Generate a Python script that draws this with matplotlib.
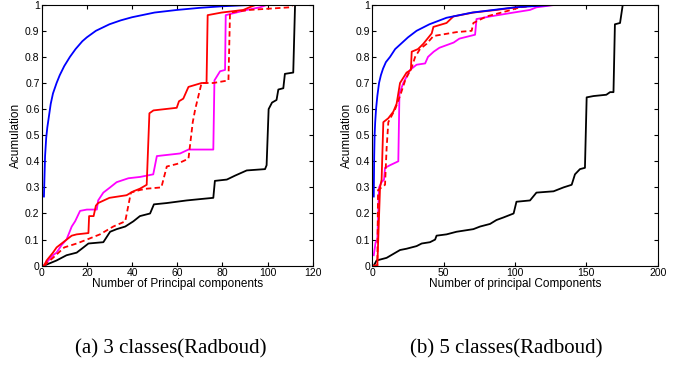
import matplotlib
matplotlib.use('Agg')
import matplotlib.pyplot as plt
from matplotlib.ticker import FormatStrFormatter

plt.rcParams['font.family'] = ['Liberation Sans', 'DejaVu Sans']

# ---- (a) 3 classes ----
a_blue_x = [1, 1.5, 2, 2.5, 3, 4, 5, 6.6, 8, 10, 12.5, 15, 18, 20, 24, 30, 35, 40, 50, 60, 70, 80, 90, 100, 120]
a_blue_y = [0.265, 0.42, 0.49, 0.53, 0.56, 0.62, 0.66, 0.70, 0.73, 0.765, 0.80, 0.83, 0.86, 0.875, 0.90, 0.925, 0.94, 0.952,
            0.97, 0.98, 0.988, 0.994, 0.998, 1.0, 1.0]

a_red_x = [1, 2.2, 5, 6.6, 10.3, 13.3, 15.5, 20.7, 21, 23, 24, 25, 30, 37.6, 40.6, 43.5, 46.5, 47.7, 49.5,
           59.8, 60.8, 62.7, 65, 70.8, 73, 73.5, 79.7, 89.3, 92, 95, 120]
a_red_y = [0, 0.02, 0.05, 0.07, 0.095, 0.115, 0.12, 0.125, 0.19, 0.19, 0.23, 0.24, 0.26, 0.27, 0.285, 0.295, 0.31, 0.584, 0.595,
           0.605, 0.63, 0.64, 0.685, 0.70, 0.70, 0.96, 0.97, 0.98, 0.99, 1.0, 1.0]

a_reddash_x = [1, 5, 10, 15.5, 20, 25.8, 31.7, 37, 39.5, 43.5, 46.5, 53, 55.4, 60, 65, 66.9, 68, 70.8, 76,
               82.7, 83.4, 92, 110, 111.4, 120]
a_reddash_y = [0, 0.03, 0.07, 0.085, 0.10, 0.12, 0.15, 0.17, 0.28, 0.29, 0.295, 0.30, 0.38, 0.39, 0.41, 0.55, 0.60, 0.70, 0.70,
               0.71, 0.97, 0.98, 0.99, 1.0, 1.0]

a_mag_x = [1, 5, 6.6, 8.9, 11, 13.3, 14.8, 17, 20, 24.4, 25, 27.3, 30.3, 33.2, 38.4, 43.5, 49.4, 51, 61.3, 65,
           76, 76.5, 79, 81.2, 81.5, 90.8, 96.7, 100, 120]
a_mag_y = [0, 0.04, 0.05, 0.08, 0.10, 0.15, 0.17, 0.21, 0.215, 0.215, 0.25, 0.28, 0.30, 0.32, 0.335, 0.34, 0.35, 0.42, 0.43, 0.445,
           0.445, 0.71, 0.745, 0.75, 0.96, 0.98, 0.99, 1.0, 1.0]

a_blk_x = [1, 6.6, 11, 15.5, 18.5, 20.7, 27.3, 30.3, 33.2, 37, 40.6, 43.5, 48, 49.7, 55.4, 64.2, 70, 76, 76.7,
           82, 85.6, 90.8, 98.9, 99.6, 100.5, 102, 104, 104.8, 107, 107.7, 111.4, 112.2, 120]
a_blk_y = [0, 0.02, 0.04, 0.05, 0.07, 0.085, 0.09, 0.13, 0.14, 0.15, 0.17, 0.19, 0.20, 0.235, 0.24, 0.25, 0.255, 0.26, 0.325,
           0.33, 0.345, 0.365, 0.37, 0.385, 0.60, 0.625, 0.635, 0.675, 0.68, 0.735, 0.74, 1.0, 1.0]

# ---- (b) 5 classes ----
b_blue_x = [1, 1.3, 1.6, 2, 2.6, 3.5, 4.7, 6, 7.5, 9.5, 12.4, 16, 20, 25, 31, 40, 52, 70, 100, 130, 200]
b_blue_y = [0.265, 0.42, 0.50, 0.55, 0.60, 0.65, 0.70, 0.73, 0.755, 0.78, 0.80, 0.83, 0.85, 0.875, 0.90, 0.925, 0.95, 0.97, 0.99, 1.0, 1.0]

b_red_x = [1, 3.5, 5.4, 6.5, 7.7, 11.2, 14.7, 17, 19.4, 24, 27, 27.6, 32, 35.7, 41.6, 42.8, 52, 56.8, 70.8,
           87, 101, 117.5, 200]
b_red_y = [0, 0, 0.30, 0.33, 0.55, 0.565, 0.59, 0.62, 0.70, 0.74, 0.75, 0.82, 0.83, 0.85, 0.89, 0.915, 0.93, 0.955, 0.97,
           0.98, 0.99, 1.0, 1.0]

b_reddash_x = [1, 3.5, 4, 6.5, 8.9, 10, 11.2, 16, 18, 20, 23, 27.6, 30, 33.4, 38, 42.8, 59, 69.6, 70.8,
               80, 94, 103.5, 120, 200]
b_reddash_y = [0, 0, 0.29, 0.30, 0.31, 0.45, 0.55, 0.60, 0.63, 0.66, 0.71, 0.76, 0.80, 0.83, 0.85, 0.88, 0.895, 0.90, 0.93,
               0.955, 0.975, 0.99, 1.0, 1.0]

b_mag_x = [1, 2.3, 3.5, 4.7, 6.5, 8.2, 8.9, 12.4, 18.2, 19, 21.7, 26.4, 31, 37, 39, 43, 47, 57, 61, 72,
           73, 82.5, 99, 110.5, 115, 129, 200]
b_mag_y = [0.04, 0.09, 0.10, 0.30, 0.32, 0.33, 0.375, 0.385, 0.40, 0.66, 0.70, 0.75, 0.77, 0.775, 0.80, 0.82, 0.835, 0.855, 0.87, 0.885,
           0.945, 0.955, 0.97, 0.98, 0.99, 1.0, 1.0]

b_blk_x = [1, 3, 10, 14.7, 19.4, 24, 31, 34.6, 40.4, 44, 45, 52, 59, 70.8, 75.5, 82.5, 87, 92, 99, 101,
           110.5, 115, 127, 134, 139.7, 142, 145.5, 149, 150.2, 155, 164, 166.6, 169, 170, 173.6, 175.5, 200]
b_blk_y = [0, 0.02, 0.03, 0.045, 0.06, 0.065, 0.075, 0.085, 0.09, 0.10, 0.115, 0.12, 0.13, 0.14, 0.15, 0.16, 0.175, 0.185, 0.20, 0.245,
           0.25, 0.28, 0.285, 0.30, 0.31, 0.35, 0.37, 0.375, 0.645, 0.65, 0.655, 0.665, 0.665, 0.925, 0.93, 1.0, 1.0]

panels = [
    dict(pos=[0.0605, 0.2721, 0.3933, 0.715], xmax=120, xstep=20,
         xlabel='Number of Principal components', caption='(a) 3 classes(Radboud)', capx=0.248,
         lines=[(a_blk_x, a_blk_y, 'k', '-'), (a_mag_x, a_mag_y, 'magenta', '-'),
                (a_reddash_x, a_reddash_y, 'red', '--'), (a_red_x, a_red_y, 'red', '-'),
                (a_blue_x, a_blue_y, 'blue', '-')]),
    dict(pos=[0.5404, 0.2721, 0.4142, 0.715], xmax=200, xstep=50,
         xlabel='Number of principal Components', caption='(b) 5 classes(Radboud)', capx=0.735,
         lines=[(b_blk_x, b_blk_y, 'k', '-'), (b_mag_x, b_mag_y, 'magenta', '-'),
                (b_reddash_x, b_reddash_y, 'red', '--'), (b_red_x, b_red_y, 'red', '-'),
                (b_blue_x, b_blue_y, 'blue', '-')]),
]

fig = plt.figure(figsize=(6.89, 3.65), dpi=100)

for p in panels:
    ax = fig.add_axes(p['pos'])
    for x, y, c, ls in p['lines']:
        if ls == '--':
            ax.plot(x, y, color=c, linestyle=ls, dashes=(3, 1.8), linewidth=1.3)
        else:
            ax.plot(x, y, color=c, linestyle=ls, linewidth=1.3)
    ax.set_xlim(0, p['xmax'])
    ax.set_ylim(0, 1)
    ax.set_xticks(range(0, p['xmax'] + 1, p['xstep']))
    ax.set_yticks([i / 10 for i in range(11)])
    ax.yaxis.set_major_formatter(FormatStrFormatter('%g'))
    ax.tick_params(direction='in', top=True, right=True, labelsize=7.5, length=3, pad=1.5)
    ax.set_xlabel(p['xlabel'], fontsize=8.5, labelpad=0)
    ax.set_ylabel('Acumulation', fontsize=8.5, labelpad=2)
    for s in ax.spines.values():
        s.set_linewidth(0.8)
    # caption under each panel
    fig.text(p['capx'], 0.045, p['caption'], ha='center', va='center',
             fontsize=15, family='Liberation Serif')

fig.savefig('out.png', dpi=100)
